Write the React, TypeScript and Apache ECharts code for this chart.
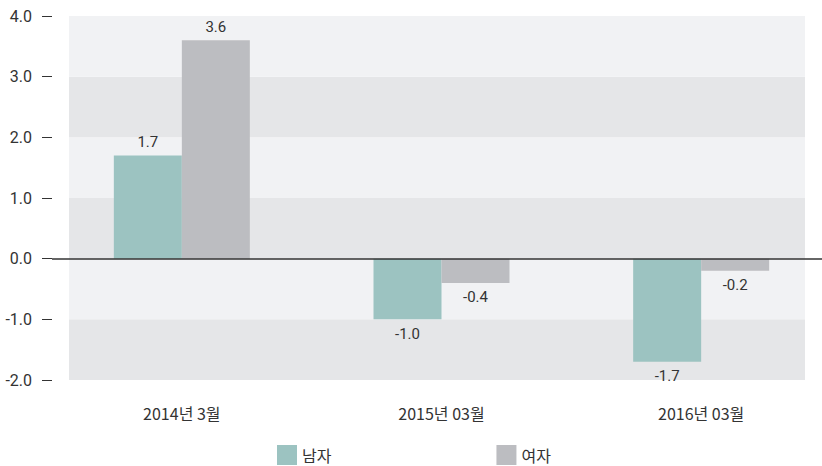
import React, { useEffect, useRef } from "react";
import * as echarts from "echarts";

const categories = ["2014년 3월", "2015년 03월", "2016년 03월"];
const seriesNames = ["남자", "여자"];
const maleValues = [1.7, -1.0, -1.7];
const femaleValues = [3.6, -0.4, -0.2];
const yTicks = { min: -2, max: 4, interval: 1 };

const TEAL = "#9cc3c1";
const GREY = "#bcbdc1";
const TXT = "#333333";
const NUM_FONT = "Roboto, 'Noto Sans', sans-serif";
const KR_FONT = "'Noto Sans CJK KR', 'Noto Sans', sans-serif";

function makeSeries(name: string, values: number[], color: string) {
  return {
    name,
    type: "bar",
    xAxisIndex: 1,
    yAxisIndex: 1,
    barWidth: 68,
    barGap: "0%",
    itemStyle: { color },
    data: values.map((v) => ({
      value: v,
      label: {
        show: true,
        position: v >= 0 ? "top" : "bottom",
        distance: v >= 0 ? 6 : 7,
        formatter: (p: any) => Number(p.value).toFixed(1),
        color: TXT,
        fontSize: 15,
        fontFamily: NUM_FONT,
      },
    })),
  };
}

export default function App() {
  const ref = useRef<HTMLDivElement>(null);
  useEffect(() => {
    if (!ref.current) return;
    const chart = echarts.init(ref.current, undefined, { renderer: "svg" });
    const gridTop = 16;
    const gridBottom = 86;
    chart.setOption({
      animation: false,
      grid: [
        { left: 69, width: 736, top: gridTop, bottom: gridBottom },
        { left: 52, width: 779, top: gridTop, bottom: gridBottom },
      ],
      legend: {
        data: seriesNames,
        left: 277,
        top: 445,
        padding: 0,
        itemWidth: 20,
        itemHeight: 20,
        itemGap: 165,
        icon: "rect",
        textStyle: { color: TXT, fontSize: 16, fontFamily: KR_FONT },
      },
      xAxis: [
        {
          gridIndex: 0,
          type: "category",
          data: categories,
          show: false,
        },
        {
          gridIndex: 1,
          type: "category",
          data: categories,
          axisLine: { show: false, onZero: false },
          axisTick: { show: false },
          axisLabel: {
            color: TXT,
            fontSize: 16,
            fontFamily: KR_FONT,
            margin: 25,
          },
        },
      ],
      yAxis: [
        {
          gridIndex: 0,
          type: "value",
          min: yTicks.min,
          max: yTicks.max,
          interval: yTicks.interval,
          axisLine: { show: false },
          axisTick: { show: false },
          axisLabel: { show: false },
          splitLine: { show: false },
          splitArea: { show: true, areaStyle: { color: ["#e5e6e8", "#f1f2f4"] } },
        },
        {
          gridIndex: 1,
          type: "value",
          min: yTicks.min,
          max: yTicks.max,
          interval: yTicks.interval,
          axisLine: { show: false },
          axisTick: { show: true, length: 10, lineStyle: { color: TXT, width: 1 } },
          axisLabel: {
            color: TXT,
            fontSize: 16,
            fontFamily: NUM_FONT,
            margin: 20,
            formatter: (v: number) => v.toFixed(1),
          },
          splitLine: { show: false },
        },
      ],
      series: [
        {
          ...makeSeries(seriesNames[0], maleValues, TEAL),
          markLine: {
            silent: true,
            symbol: "none",
            label: { show: false },
            lineStyle: { color: TXT, width: 1.5, type: "solid" },
            data: [{ yAxis: 0 }],
          },
        },
        makeSeries(seriesNames[1], femaleValues, GREY),
      ],
    });
    return () => chart.dispose();
  }, []);
  return (
    <div style={{ width: 822, height: 466, position: "absolute", left: 0, top: 0, overflow: "hidden" }}>
      <div ref={ref} style={{ width: 840, height: 466 }} />
    </div>
  );
}
